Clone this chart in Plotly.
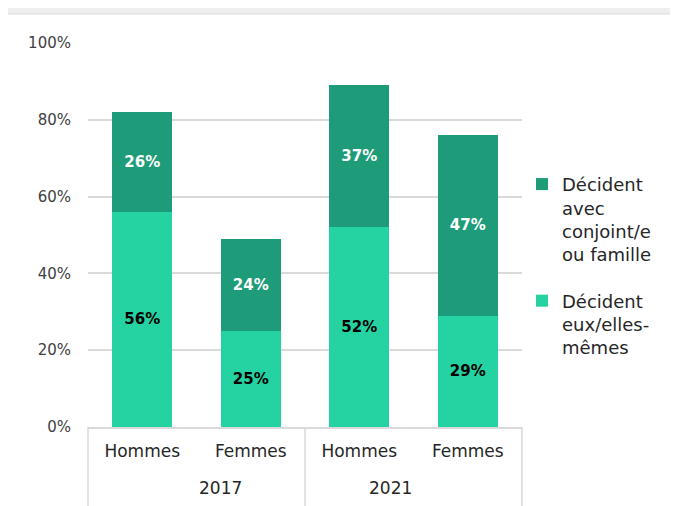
import plotly.graph_objects as go

years = ["2017", "2017", "2021", "2021"]
sexes = ["Hommes", "Femmes", "Hommes", "Femmes"]
eux_memes = [56, 25, 52, 29]
avec_famille = [26, 24, 37, 47]
y_ticks = [0, 20, 40, 60, 80, 100]

light = "#24D3A1"
dark = "#1E9C79"
txt_font = "'DejaVu Sans', sans-serif"

# one category per bar, labelled by sex; years go below as a second row
cats = [f"{s} {y}" for s, y in zip(sexes, years)]

fig = go.Figure()

fig.add_trace(go.Bar(
    x=cats,
    y=eux_memes,
    name="Décident<br>eux/elles-<br>mêmes",
    legendgroup="eux",
    legendrank=2,
    marker=dict(color=light, line=dict(width=0)),
    text=[f"{v}%" for v in eux_memes],
    textposition="inside",
    insidetextanchor="middle",
    textangle=0,
    textfont=dict(color="black", size=15, family=txt_font, weight="bold"),
))
fig.add_trace(go.Bar(
    x=cats,
    y=avec_famille,
    name="Décident<br>avec<br>conjoint/e<br>ou famille",
    legendgroup="avec",
    legendrank=1,
    marker=dict(color=dark, line=dict(width=0)),
    text=[f"{v}%" for v in avec_famille],
    textposition="inside",
    insidetextanchor="middle",
    textangle=0,
    textfont=dict(color="white", size=15, family=txt_font, weight="bold"),
))

# white card on a grey page
fig.add_shape(type="rect", xref="paper", yref="paper",
              x0=(7 - 88) / 434, x1=(700 - 88) / 434,
              y0=(427 - 530) / 384, y1=(427 - 14) / 384,
              fillcolor="white", line=dict(color="#DADADA", width=1),
              layer="below")

# group dividers under the axis
for xd in [0, 0.5, 1]:
    fig.add_shape(type="line", xref="paper", yref="paper",
                  x0=xd, x1=xd, y0=0, y1=-0.25,
                  line=dict(color="#D9D9D9", width=1.5))

# year labels
for xa, yr in [(0.25, years[0]), (0.75, years[2])]:
    fig.add_annotation(x=xa, y=-0.159, xref="paper", yref="paper",
                       text=yr, showarrow=False, yanchor="middle",
                       font=dict(family=txt_font, size=17, color="#262626"))

fig.update_layout(
    width=678, height=506,
    margin=dict(l=80, r=164, t=35, b=87),
    paper_bgcolor="#EEEEEE",
    plot_bgcolor="rgba(0,0,0,0)",
    barmode="stack",
    bargap=0.45,
    font=dict(family=txt_font, size=15, color="#404040"),
    showlegend=True,
    legend=dict(
        x=1.0, xanchor="left", y=0.68, yanchor="top",
        traceorder="grouped", valign="top",
        font=dict(size=18, color="#262626", family=txt_font),
        tracegroupgap=20,
        bgcolor="rgba(0,0,0,0)",
    ),
    uniformtext=dict(mode="show", minsize=10),
)

fig.update_yaxes(
    range=[0, 100], tickvals=y_ticks, ticktext=[f"{v}%" for v in y_ticks],
    showgrid=True, gridcolor="#D9D9D9", gridwidth=1.5,
    zeroline=False, showline=False, ticks="", ticklabelstandoff=16,
    tickfont=dict(size=15, color="#404040", family=txt_font),
)
fig.update_xaxes(
    type="category", tickvals=cats, ticktext=sexes,
    showline=True, linecolor="#D9D9D9", linewidth=1.5,
    ticks="", ticklabelstandoff=8,
    tickfont=dict(size=17, color="#262626", family=txt_font),
)

fig.write_html("out.html")
